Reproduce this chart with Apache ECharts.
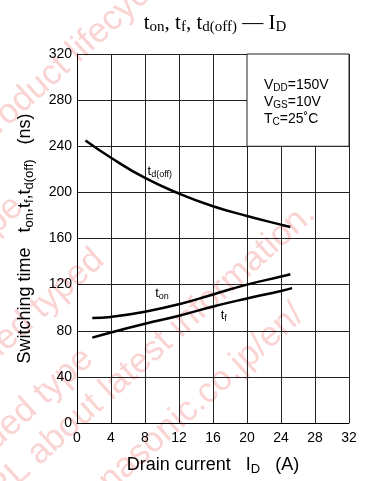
<!DOCTYPE html>
<html>
<head>
<meta charset="utf-8">
<script src="https://cdn.jsdelivr.net/npm/echarts@6/dist/echarts.min.js"></script>
<style>
  html, body { margin: 0; padding: 0; background: #fff; }
  #chart { width: 369px; height: 481px; }
</style>
</head>
<body>
<div id="chart"></div>
<script>
// Switching time vs drain current (I_D in A, times in ns)
const tdOffCurve = [[1, 245], [4, 230], [8, 212.5], [12, 199], [16, 188], [20, 179.5], [24, 172], [25.1, 170]];
const tOnCurve   = [[1.8, 91], [4, 92], [8, 96.5], [12, 103], [16, 111.5], [20, 120], [24, 127], [25.1, 129]];
const tFCurve    = [[1.8, 74], [4, 78.5], [8, 86], [12, 93], [16, 101], [20, 108], [24, 114.5], [25.3, 117]];

// Axis ranges / ticks
const xTicks = { min: 0, max: 32, step: 4 };
const yTicks = { min: 0, max: 320, step: 40 };

// Curve name anchors [I_D, time]
const curveLabels = [
  { coord: [8.3, 218], text: 't{sub|d(off)}' },
  { coord: [9.2, 112.5], text: 't{sub|on}' },
  { coord: [16.9, 93], text: 't{sub|f}' }
];

// Test-condition box region (corners in data units) and its text
const condBox = [[20, 320], [32, 240]];
const condText = 'V{sub|DD}=150V\nV{sub|GS}=10V\nT{sub|C}=25˚C';

// Background notice lines: [text, x, y, align]
const noticeLines = [
  ['Product lifecycle stage.', -13, 156, 'left'],
  ['planed maintenance type', 30, 215, 'right'],
  ['planed discontinued typed', 111, 268, 'right'],
  ['discontinued type', 100, 367, 'right'],
  ['Please visit following URL about latest information.', 322, 222, 'right'],
  ['http://www.semicon.panasonic.co.jp/en/', 311, 323, 'right']
];

const FONT = '"Liberation Sans", Arial, sans-serif';
const SERIF = '"Liberation Serif", "Times New Roman", serif';

const subRich = (size) => ({
  n: { fontSize: size, fontFamily: FONT, color: '#000' },
  sub: { fontSize: Math.round(size * 0.72), fontFamily: FONT, color: '#000', verticalAlign: 'bottom', padding: [Math.round(size * 0.45), 0, 0, 0] }
});

const chart = echarts.init(document.getElementById('chart'), null, { renderer: 'canvas' });

// notice text sits on its own layer underneath the plot
const noticeGraphics = noticeLines.map(([t, x, y, align]) => ({
  type: 'text',
  x: x, y: y,
  rotation: 42 * Math.PI / 180,
  zlevel: -1,
  silent: true,
  style: {
    text: t,
    fill: '#fad3d3',
    font: '35px ' + FONT,
    align: align,
    verticalAlign: 'bottom'
  }
}));

const lineSeries = (name, data) => ({
  name: name,
  type: 'line',
  data: data,
  smooth: true,
  showSymbol: false,
  lineStyle: { color: '#000', width: 2.5 },
  z: 5
});

chart.setOption({
  backgroundColor: 'transparent',
  animation: false,
  title: {
    text: 't{sub|on}, t{sub|f}, t{sub|d(off)} — I{sub|D}',
    left: 210, textAlign: 'center',
    top: 6,
    textStyle: {
      fontSize: 21, fontFamily: SERIF, fontWeight: 'normal', color: '#000',
      rich: {
        sub: { fontSize: 15, fontFamily: SERIF, color: '#000', verticalAlign: 'bottom', padding: [9, 0, 0, 0] }
      }
    }
  },
  graphic: noticeGraphics,
  grid: { left: 77, top: 54, right: 20, bottom: 58, show: false },
  xAxis: {
    type: 'value',
    min: xTicks.min, max: xTicks.max, interval: xTicks.step,
    name: 'Drain current   I{sub|D}   (A)',
    nameLocation: 'middle', nameGap: 32,
    nameTextStyle: { fontSize: 18, fontFamily: FONT, color: '#000', rich: subRich(18) },
    axisLine: { show: true, lineStyle: { color: '#000', width: 1 } },
    axisTick: { show: false },
    axisLabel: { fontSize: 14, fontFamily: FONT, color: '#000', margin: 8 },
    splitLine: { show: true, lineStyle: { color: '#222', width: 1 } }
  },
  yAxis: {
    type: 'value',
    min: yTicks.min, max: yTicks.max, interval: yTicks.step,
    name: 'Switching time   t{sub|on},t{sub|f},t{sub|d(off)}   (ns)',
    nameLocation: 'middle', nameGap: 41, nameRotate: 90,
    nameTextStyle: { fontSize: 18, fontFamily: FONT, color: '#000', rich: subRich(18) },
    axisLine: { show: true, lineStyle: { color: '#000', width: 1 } },
    axisTick: { show: false },
    axisLabel: { fontSize: 14, fontFamily: FONT, color: '#000', margin: 5 },
    splitLine: { show: true, lineStyle: { color: '#222', width: 1 } }
  },
  series: [
    Object.assign(lineSeries('t_d(off)', tdOffCurve), {
      markArea: {
        silent: true,
        itemStyle: { color: '#fff', borderColor: '#222', borderWidth: 1 },
        label: {
          show: true, position: 'inside',
          formatter: condText,
          align: 'left',
          offset: [-34, 2],
          lineHeight: 17,
          fontSize: 14, fontFamily: FONT, color: '#000',
          rich: subRich(14)
        },
        data: [[{ coord: condBox[0] }, { coord: condBox[1] }]]
      },
      markPoint: {
        silent: true,
        symbol: 'circle', symbolSize: 0,
        label: {
          show: true, position: 'right', distance: 0,
          formatter: (p) => p.data.text,
          fontSize: 13, fontFamily: FONT, color: '#000',
          rich: subRich(13)
        },
        data: curveLabels.map(d => ({ coord: d.coord, text: d.text }))
      }
    }),
    lineSeries('t_on', tOnCurve),
    lineSeries('t_f', tFCurve)
  ]
});
</script>
</body>
</html>
